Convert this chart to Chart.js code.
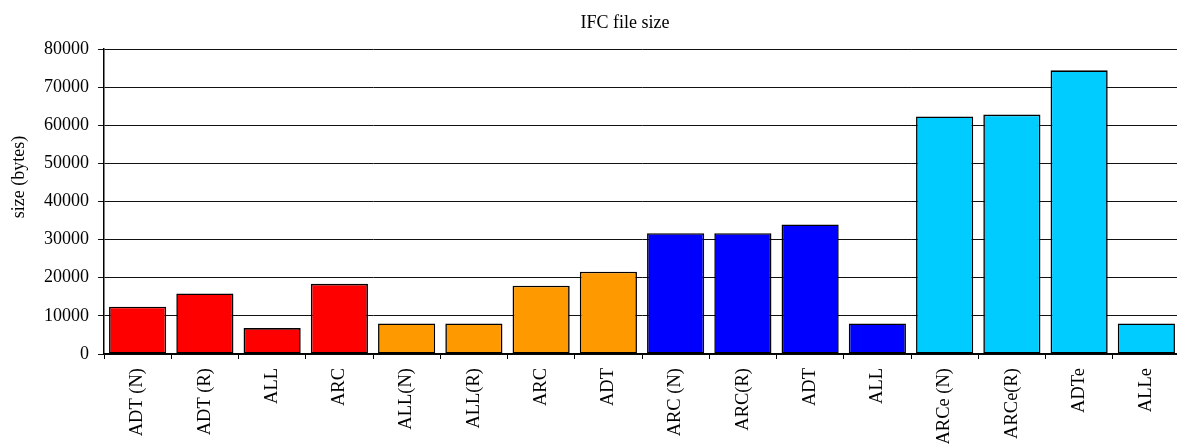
<!DOCTYPE html>
<html>
<head>
<meta charset="utf-8">
<script src="https://cdn.jsdelivr.net/npm/chart.js@4/dist/chart.umd.min.js"></script>
<style>
  html, body { margin: 0; padding: 0; background: #fff; overflow: hidden; width: 1177px; height: 444px; }
  #wrap { position: relative; width: 1180px; height: 444px; }
</style>
</head>
<body>
<div id="wrap"><canvas id="c"></canvas></div>
<script>
// ---- data ----
const chartTitle = 'IFC file size';
const yAxisTitle = 'size (bytes)';
const categories = ['ADT (N)', 'ADT (R)', 'ALL', 'ARC', 'ALL(N)', 'ALL(R)', 'ARC', 'ADT',
                    'ARC (N)', 'ARC(R)', 'ADT', 'ALL', 'ARCe (N)', 'ARCe(R)', 'ADTe', 'ALLe'];
const sizes = [12400, 15900, 6800, 18400, 8000, 8000, 17900, 21600,
               31700, 31700, 34000, 8000, 62300, 62800, 74400, 8000];
const yTickMin = 0;
const yTickMax = 80000;
const yTickStep = 10000;

// ---- style ----
const groupPalette = ['#FF0000', '#FF9900', '#0000FF', '#00CCFF'];
const barColors = categories.map((_, i) => groupPalette[Math.floor(i / 4)]);
const FONT = '"Liberation Serif", "Times New Roman", serif';

const textPlugin = {
  id: 'texts',
  afterDraw(chart) {
    const ctx = chart.ctx;
    ctx.save();
    ctx.fillStyle = '#000';
    ctx.font = '18px ' + FONT;
    ctx.textAlign = 'center';
    ctx.textBaseline = 'alphabetic';
    ctx.fillText(chartTitle, 625, 28);
    ctx.translate(19, 177);
    ctx.rotate(-Math.PI / 2);
    ctx.textBaseline = 'middle';
    ctx.fillText(yAxisTitle, 0, 0);
    ctx.restore();
  }
};

new Chart(document.getElementById('c'), {
  type: 'bar',
  data: {
    labels: categories,
    datasets: [{
      data: sizes,
      backgroundColor: barColors,
      borderColor: '#000',
      borderWidth: 1.6,
      borderSkipped: false,
      barPercentage: 0.85,
      categoryPercentage: 1.0
    }]
  },
  options: {
    responsive: true,
    maintainAspectRatio: false,
    animation: false,
    layout: { padding: { top: 49, left: 0, right: 0, bottom: 0 } },
    plugins: {
      legend: { display: false },
      tooltip: { enabled: false },
      title: { display: false }
    },
    scales: {
      x: {
        offset: true,
        grid: { display: true, drawOnChartArea: false, offset: true, drawTicks: true, tickLength: 5, color: '#000', lineWidth: 1 },
        border: { display: true, color: '#000', width: 1.5 },
        ticks: {
          autoSkip: false, minRotation: 90, maxRotation: 90, padding: 9,
          color: '#000', font: { family: FONT, size: 18.5 }
        },
        afterFit(scale) {
          scale.height = 90;
          scale.paddingLeft = 0;
          scale.paddingRight = 0;
        }
      },
      y: {
        min: yTickMin,
        max: yTickMax,
        grid: { color: '#111', lineWidth: 1, drawTicks: true, tickLength: 6 },
        border: { display: true, color: '#000', width: 1.5 },
        ticks: {
          stepSize: yTickStep, padding: 9, color: '#000',
          font: { family: FONT, size: 18 },
          callback: (v) => String(v)
        },
        afterFit(scale) {
          scale.width = 104;
          scale.paddingTop = 0;
          scale.paddingBottom = 0;
        }
      }
    }
  },
  plugins: [textPlugin]
});
</script>
</body>
</html>
